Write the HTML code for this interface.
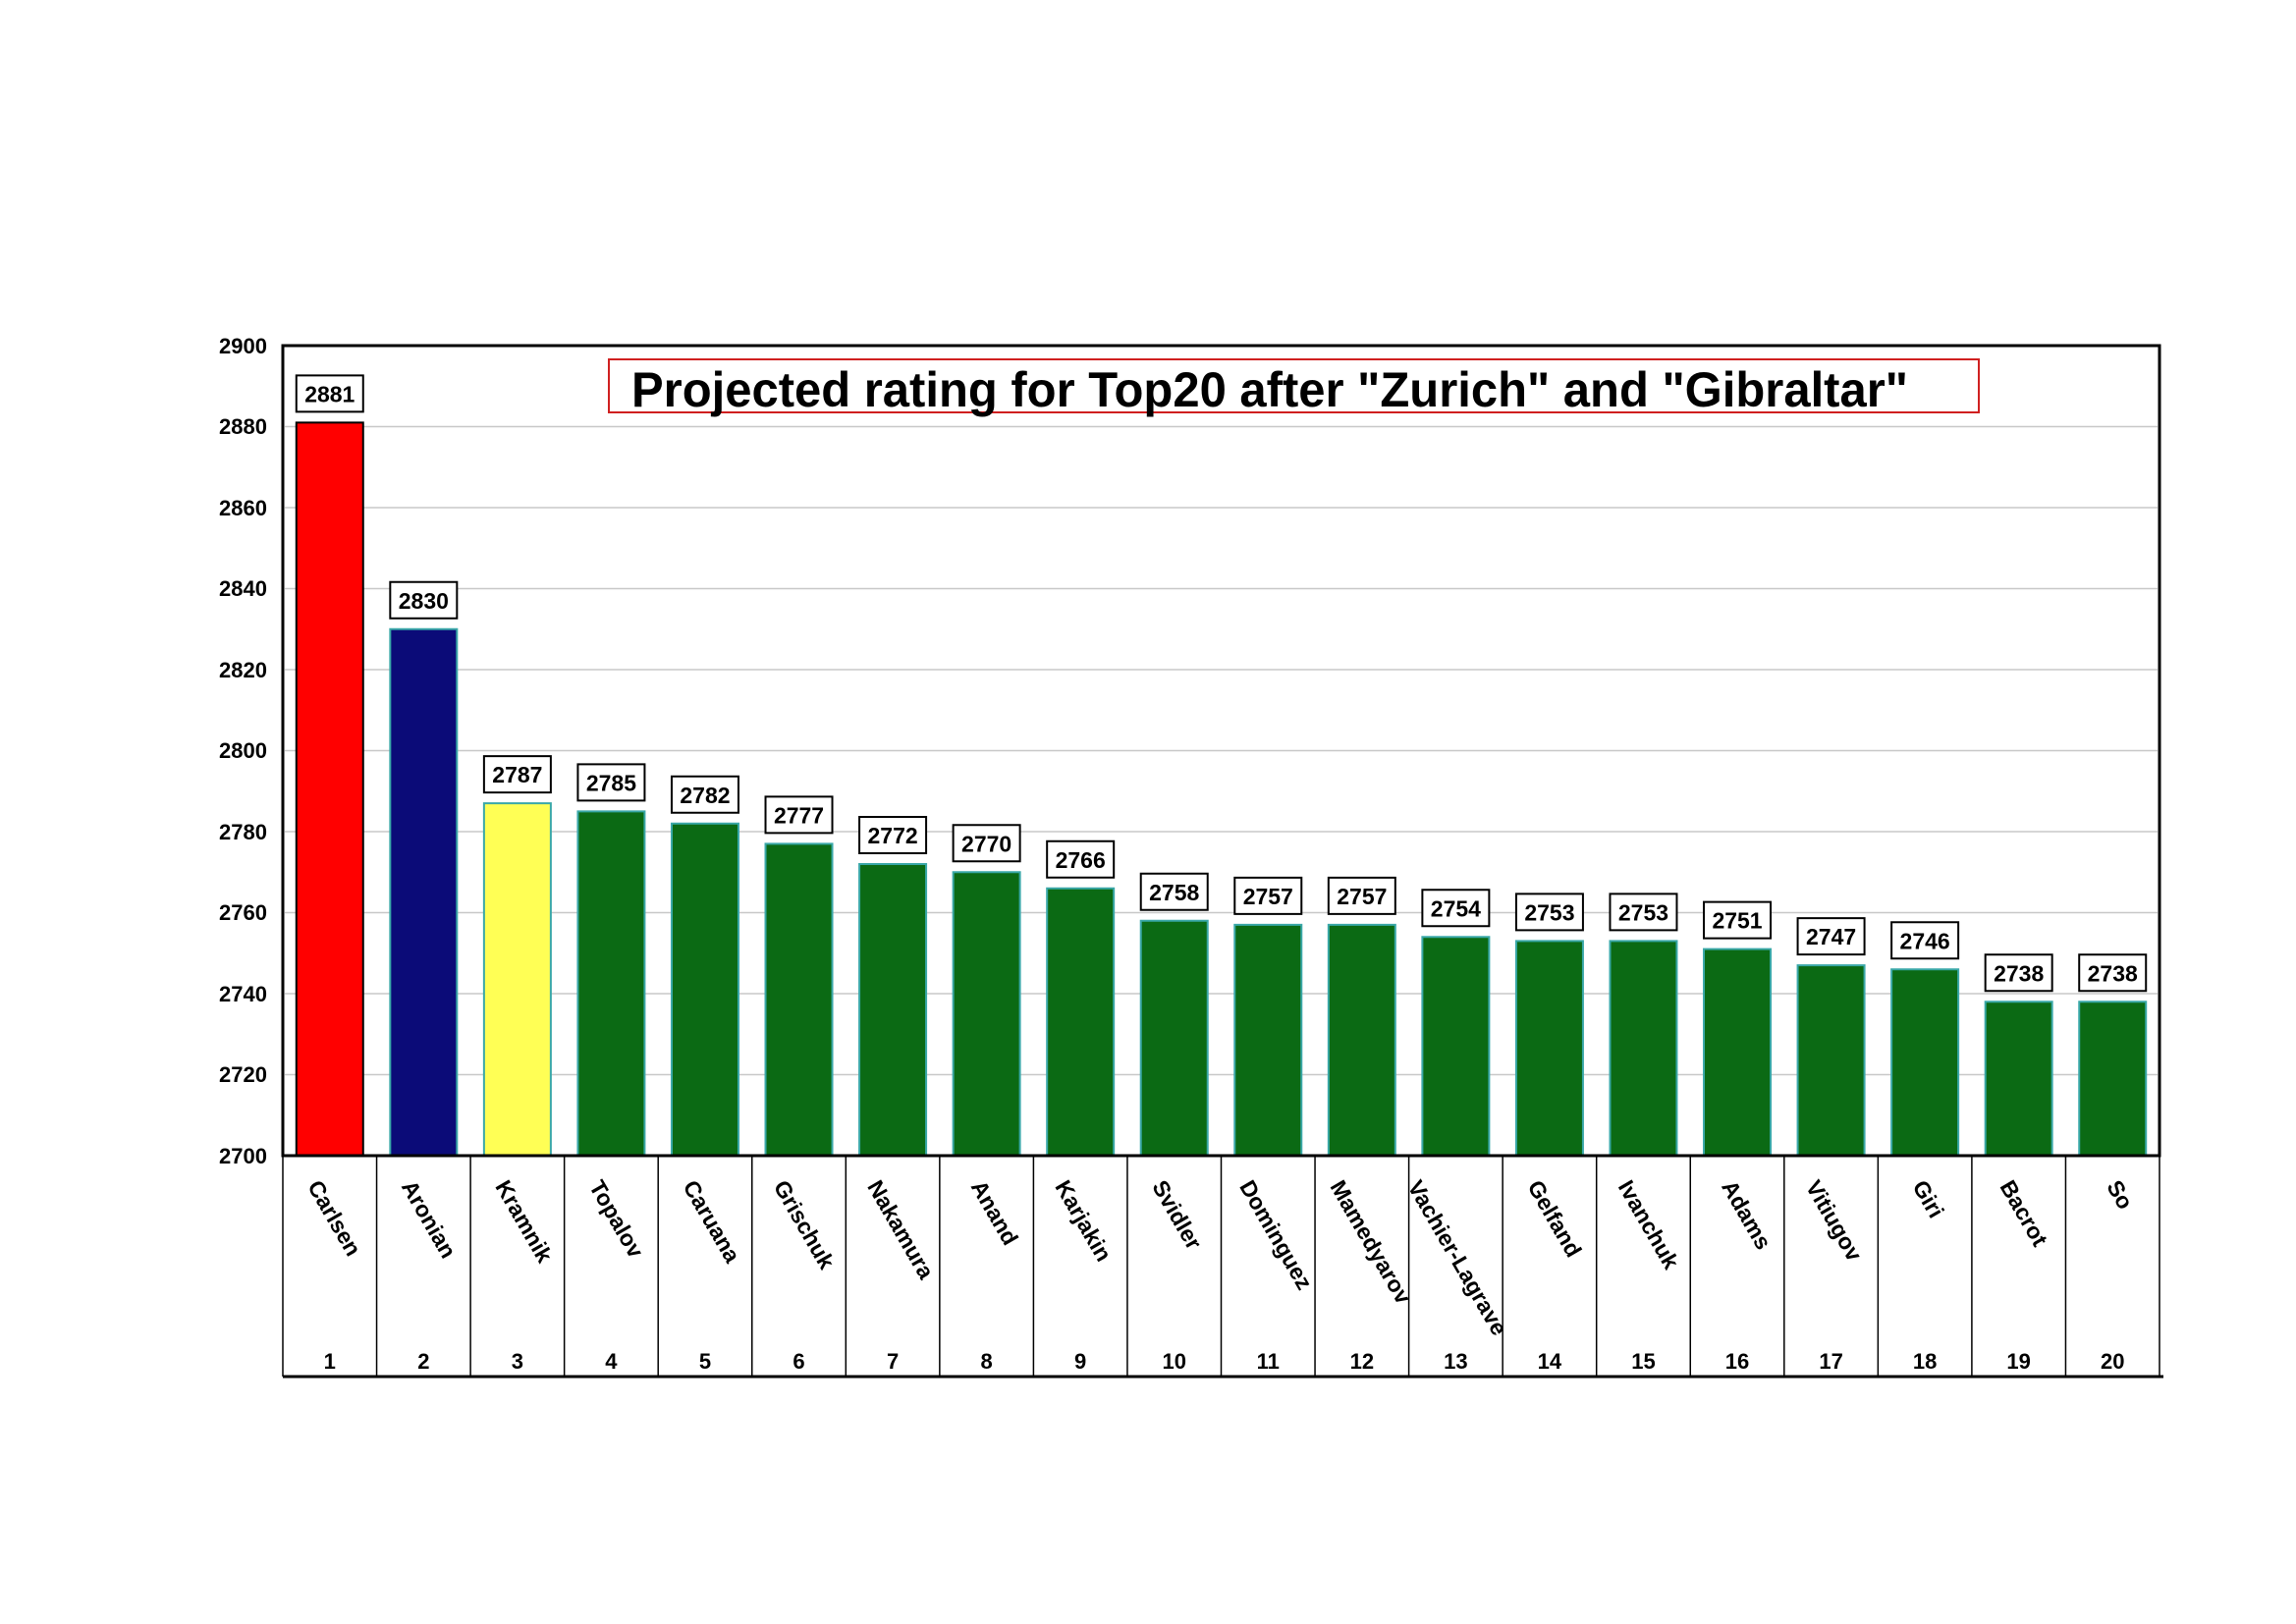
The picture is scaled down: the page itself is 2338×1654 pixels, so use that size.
<!DOCTYPE html>
<html><head><meta charset="utf-8"><style>
html,body{margin:0;padding:0;background:#fff;}
svg{display:block;font-family:"Liberation Sans",Arial,sans-serif;font-weight:bold;}
</style></head><body>
<svg width="2338" height="1654" viewBox="0 0 2338 1654" xmlns="http://www.w3.org/2000/svg">
<rect width="2338" height="1654" fill="#fff"/>
<g stroke="#c8c8c8" stroke-width="1.5">
<line x1="290" y1="434.5" x2="2197" y2="434.5"/>
<line x1="290" y1="517" x2="2197" y2="517"/>
<line x1="290" y1="599.5" x2="2197" y2="599.5"/>
<line x1="290" y1="682" x2="2197" y2="682"/>
<line x1="290" y1="764.5" x2="2197" y2="764.5"/>
<line x1="290" y1="847" x2="2197" y2="847"/>
<line x1="290" y1="929.5" x2="2197" y2="929.5"/>
<line x1="290" y1="1012" x2="2197" y2="1012"/>
<line x1="290" y1="1094.5" x2="2197" y2="1094.5"/>
</g>
<g font-size="22" text-anchor="end" fill="#000">
<text x="272" y="360">2900</text><text x="272" y="442">2880</text><text x="272" y="525">2860</text>
<text x="272" y="607">2840</text><text x="272" y="690">2820</text><text x="272" y="772">2800</text>
<text x="272" y="855">2780</text><text x="272" y="937">2760</text><text x="272" y="1020">2740</text>
<text x="272" y="1102">2720</text><text x="272" y="1185">2700</text>
</g>
<g id="bars"></g>
<rect x="620" y="366" width="1395" height="54" fill="none" stroke="#d02020" stroke-width="2"/>
<text x="643" y="414" font-size="50" fill="#000" textLength="1300" lengthAdjust="spacingAndGlyphs">Projected rating for Top20 after "Zurich" and "Gibraltar"</text>
<rect x="288" y="352" width="1911" height="825" fill="none" stroke="#000" stroke-width="3"/>
<line x1="288" y1="1402" x2="2203" y2="1402" stroke="#000" stroke-width="3"/>
<script>
const names=["Carlsen","Aronian","Kramnik","Topalov","Caruana","Grischuk","Nakamura","Anand","Karjakin","Svidler","Dominguez","Mamedyarov","Vachier-Lagrave","Gelfand","Ivanchuk","Adams","Vitiugov","Giri","Bacrot","So"];
const vals=[2881,2830,2787,2785,2782,2777,2772,2770,2766,2758,2757,2757,2754,2753,2753,2751,2747,2746,2738,2738];
const ns="http://www.w3.org/2000/svg";
const g=document.getElementById('bars');
function el(t,a,txt){const e=document.createElementNS(ns,t);for(const k in a)e.setAttribute(k,a[k]);if(txt)e.textContent=txt;g.appendChild(e);return e;}
const L=288,W=95.55,A=60;
for(let i=0;i<20;i++){
 const x0=L+i*W,cx=x0+W/2,v=vals[i];
 const top=1177-(v-2700)*4.125;
 const fill=i==0?"#ff0000":i==1?"#0b0b78":i==2?"#ffff55":"#0b6a14";
 const st=i==0?"#000":"#3aa8a8";
 el('rect',{x:cx-34,y:top,width:68,height:1177-top,fill:fill,stroke:st,'stroke-width':2});
 el('rect',{x:cx-34,y:top-48,width:68,height:37,fill:"#fff",stroke:"#000",'stroke-width':2});
 el('text',{x:cx,y:top-21,'font-size':23,'text-anchor':'middle'},String(v));
 if(i>0) el('line',{x1:x0,y1:1177,x2:x0,y2:1402,stroke:"#000",'stroke-width':1.5});
 el('text',{x:cx,y:1394,'font-size':22,'text-anchor':'middle'},String(i+1));
 const len=names[i].length*13.2;
 const sx=cx-len/2*Math.cos(A*Math.PI/180);
 const sy=1208;
 el('text',{x:sx,y:sy,'font-size':23,transform:`rotate(${A} ${sx} ${sy})`},names[i]);
}
el('line',{x1:288,y1:1177,x2:288,y2:1402,stroke:"#000",'stroke-width':1.5});
el('line',{x1:2199,y1:1177,x2:2199,y2:1402,stroke:"#000",'stroke-width':1.5});
</script>
</svg>
</body></html>
